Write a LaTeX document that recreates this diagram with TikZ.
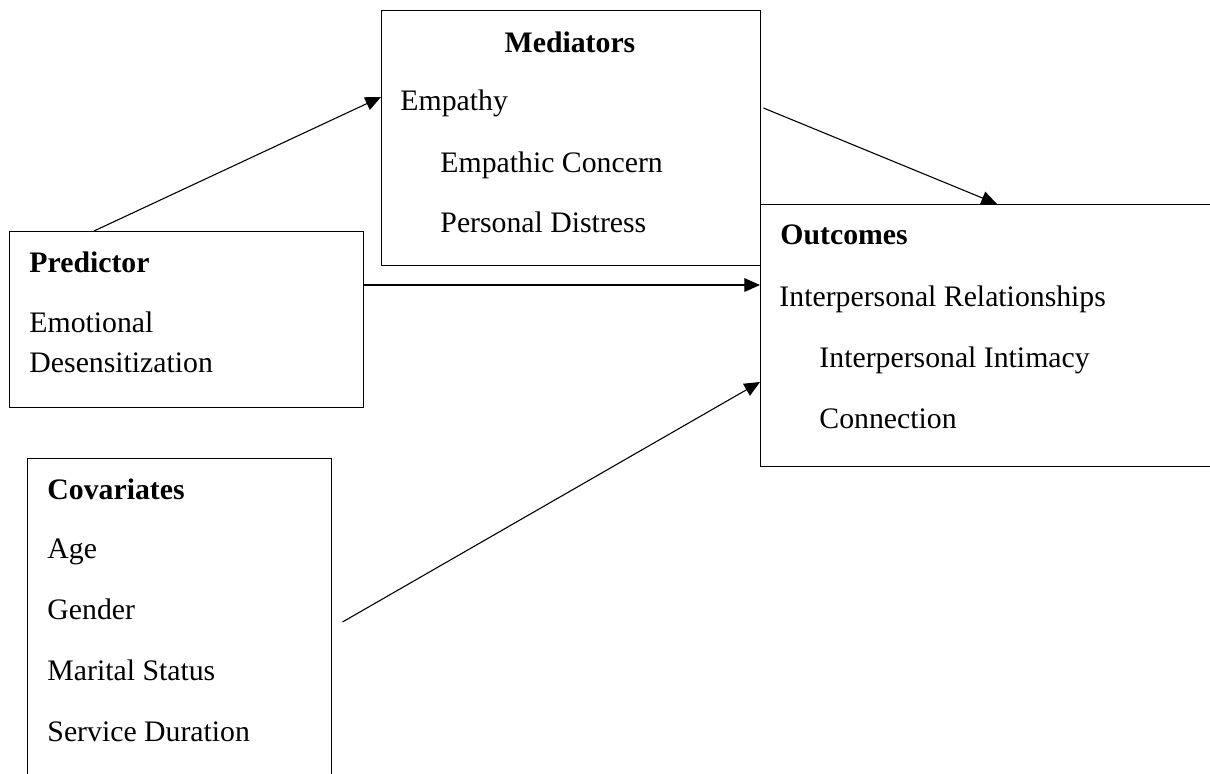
\documentclass[tikz,border=0pt]{standalone}
\usepackage{fontspec}
\setmainfont{Liberation Serif}
\usetikzlibrary{calc,arrows.meta}
\def\u{0.41pt}
\tikzset{
	box/.style={draw, line width=0.6pt, rectangle, inner sep=0pt, anchor=north west},
	txt/.style={inner sep=0pt, anchor=base west, font=\fontsize{12.2}{14}\selectfont},
	arr/.style={line width=0.45pt, -{Triangle[length=6.4pt, width=5.6pt]}}
}

\begin{document}
\begin{tikzpicture}[x=\u, y=-\u]
		%%%%% START %%%%%
		\clip (0, 0) rectangle (1210, 773);
		
		% boxes
		\node[box, minimum width={379*\u}, minimum height={255*\u}] (med) at (381, 10) {};
		\node[box, minimum width={354*\u}, minimum height={176*\u}] (pred) at (9, 231) {};
		\node[box, minimum width={480*\u}, minimum height={262*\u}] (out) at (760, 204) {};
		\node[box, minimum width={304*\u}, minimum height={340*\u}] (cov) at (27, 458) {};
		
		% mediators
		\node[txt, anchor=base] (medhead) at (570, 52) {\textbf{Mediators}};
		\node[txt] (empathy) at (400, 110) {Empathy};
		\node[txt] (concern) at (440, 172) {Empathic Concern};
		\node[txt] (distress) at (440, 232) {Personal Distress};
		
		% predictor
		\node[txt] (predhead) at (29, 272) {\textbf{Predictor}};
		\node[txt] (emotional) at (29, 332) {Emotional};
		\node[txt] (desens) at (29, 372) {Desensitization};
		
		% outcomes
		\node[txt] (outhead) at (780, 244) {\textbf{Outcomes}};
		\node[txt] (relations) at (779, 306) {Interpersonal Relationships};
		\node[txt] (intimacy) at (819, 367) {Interpersonal Intimacy};
		\node[txt] (connection) at (819, 428) {Connection};
		
		% covariates
		\node[txt] (covhead) at (47, 499) {\textbf{Covariates}};
		\node[txt] (age) at (47, 558) {Age};
		\node[txt] (gender) at (47, 619) {Gender};
		\node[txt] (marital) at (47, 680) {Marital Status};
		\node[txt] (service) at (47, 741) {Service Duration};
		
		% paths
		\draw[arr] ($(pred.north west)+(85, 0)$) -- ($(med.north west)+(0, 87)$);
		\draw[arr] ($(med.north east)+(2, 98)$) -- ($(out.north west)+(237, 0)$);
		\draw[arr] ($(pred.north east)+(0, 54)$) -- ($(out.north west)+(0, 81)$);
		\draw[arr] ($(cov.north east)+(10, 164)$) -- ($(out.north west)+(0, 178)$);
		
		%%%%% END %%%%%
\end{tikzpicture}
\end{document}
